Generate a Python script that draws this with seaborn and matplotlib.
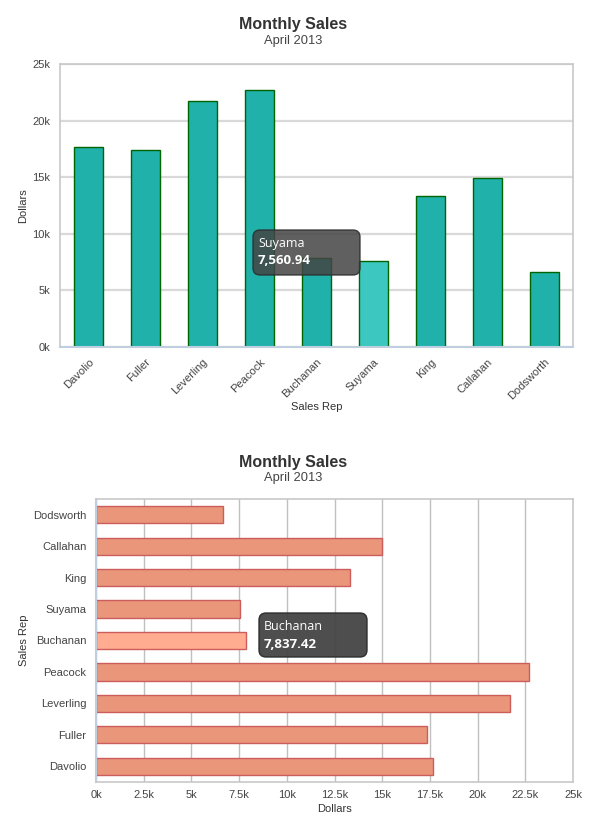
import matplotlib
matplotlib.use("Agg")
import matplotlib.pyplot as plt
from matplotlib.patches import FancyBboxPatch
from matplotlib.ticker import FuncFormatter, MultipleLocator
import seaborn as sns
import pandas as pd

# ---- data ----
reps = ["Davolio", "Fuller", "Leverling", "Peacock", "Buchanan",
        "Suyama", "King", "Callahan", "Dodsworth"]
sales = [17650, 17370, 21720, 22670, 7837.42, 7560.94, 13300, 14970, 6630]
title = "Monthly Sales"
subtitle = "April 2013"
top_hover = "Suyama"
bottom_hover = "Buchanan"

df = pd.DataFrame({"Sales Rep": reps, "Dollars": sales})

sns.set_style("white")
plt.rcParams["font.family"] = ["Liberation Sans", "DejaVu Sans"]

W, H = 610, 824
fig = plt.figure(figsize=(W / 100, H / 100), dpi=100)

GRAY = "#c8c8c8"
BLUE = "#c0cfe0"
TXT = "#444444"


def fmt_k(v, pos):
    return f"{v/1000:g}k"


def tooltip(px, py, pw, ph, name, value, alpha):
    box = FancyBboxPatch((px / 100, (H - py - ph) / 100), pw / 100, ph / 100,
                         boxstyle="round,pad=0,rounding_size=0.07",
                         transform=fig.dpi_scale_trans,
                         facecolor="#444444", edgecolor="#2a2a2a",
                         linewidth=1.0, alpha=alpha, zorder=10)
    fig.add_artist(box)
    fig.text((px + 5) / W, 1 - (py + 14) / H, name, color="white",
             fontsize=9, family=["Open Sans", "DejaVu Sans"],
             va="center", ha="left", zorder=11)
    fig.text((px + 5) / W, 1 - (py + 31) / H, f"{value:,.2f}", color="white",
             fontsize=9.5, fontweight="bold", family=["Open Sans", "DejaVu Sans"],
             va="center", ha="left", zorder=11)


# ================= TOP: vertical bars =================
ax1 = fig.add_axes([60 / W, (H - 347) / H, 513 / W, 283 / H])
pal1 = {r: ("#3cc8c0" if r == top_hover else "#20b2aa") for r in reps}
sns.barplot(data=df, x="Sales Rep", y="Dollars", hue="Sales Rep", palette=pal1,
            order=reps, width=0.5, legend=False, ax=ax1,
            edgecolor="#006400", linewidth=1.0, saturation=1)
ax1.set_ylim(0, 25000)
ax1.set_xlim(-0.5, len(reps) - 0.5)
ax1.yaxis.set_major_locator(MultipleLocator(5000))
ax1.yaxis.set_major_formatter(FuncFormatter(fmt_k))
ax1.yaxis.grid(True, color="#d9d9d9", linewidth=1.6)
ax1.set_axisbelow(True)
for s in ["top", "right", "left"]:
    ax1.spines[s].set_color(GRAY)
    ax1.spines[s].set_linewidth(1.2)
ax1.spines["bottom"].set_color(BLUE)
ax1.spines["bottom"].set_linewidth(1.5)
ax1.tick_params(axis="x", length=5, width=1, color=BLUE, labelsize=8,
                labelcolor=TXT, pad=2)
ax1.tick_params(axis="y", length=0, labelsize=8, labelcolor=TXT, pad=7)
plt.setp(ax1.get_xticklabels(), rotation=45, ha="right", rotation_mode="anchor")
ax1.set_xlabel("Sales Rep", fontsize=8, color="#333333")
ax1.set_ylabel("Dollars", fontsize=8, color="#333333")
ax1.xaxis.set_label_coords(0.5, -0.195)
ax1.yaxis.set_label_coords(-0.063, 0.5)

fig.text(293 / W, 1 - 24 / H, title, ha="center", va="center",
         fontsize=11.5, fontweight="bold", color="#333333")
fig.text(293 / W, 1 - 41 / H, subtitle, ha="center", va="center",
         fontsize=9.3, color="#444444")

tooltip(253, 230, 107, 45, top_hover, sales[reps.index(top_hover)], 0.85)

# ================= BOTTOM: horizontal bars =================
ax2 = fig.add_axes([96 / W, (H - 782) / H, 477 / W, 283 / H])
pal2 = {r: ("#ffac90" if r == bottom_hover else "#e9967a") for r in reps}
sns.barplot(data=df, y="Sales Rep", x="Dollars", hue="Sales Rep", palette=pal2,
            order=reps[::-1], width=0.55, legend=False, ax=ax2, orient="h",
            edgecolor="#cd5c5c", linewidth=1.0, saturation=1)
ax2.set_xlim(0, 25000)
ax2.set_ylim(len(reps) - 0.5, -0.5)
ax2.xaxis.set_major_locator(MultipleLocator(2500))
ax2.xaxis.set_major_formatter(FuncFormatter(fmt_k))
ax2.xaxis.grid(True, color="#c0c0c0", linewidth=1.0)
ax2.set_axisbelow(True)
for s in ["top", "right", "bottom"]:
    ax2.spines[s].set_color(GRAY)
    ax2.spines[s].set_linewidth(1.2)
ax2.spines["left"].set_color(BLUE)
ax2.spines["left"].set_linewidth(1.5)
ax2.tick_params(axis="y", length=4, width=1, color=BLUE, labelsize=8,
                labelcolor=TXT, pad=3)
ax2.tick_params(axis="x", length=0, labelsize=8, labelcolor=TXT, pad=6)
ax2.set_xlabel("Dollars", fontsize=8, color="#333333")
ax2.set_ylabel("Sales Rep", fontsize=8, color="#333333")
ax2.xaxis.set_label_coords(0.5, -0.079)
ax2.yaxis.set_label_coords(-0.14, 0.5)

fig.text(293 / W, 1 - 462 / H, title, ha="center", va="center",
         fontsize=11.5, fontweight="bold", color="#333333")
fig.text(293 / W, 1 - 478 / H, subtitle, ha="center", va="center",
         fontsize=9.3, color="#444444")

tooltip(259, 613, 108, 44, bottom_hover, sales[reps.index(bottom_hover)], 0.95)

fig.savefig("out.png", dpi=100, facecolor="white")
